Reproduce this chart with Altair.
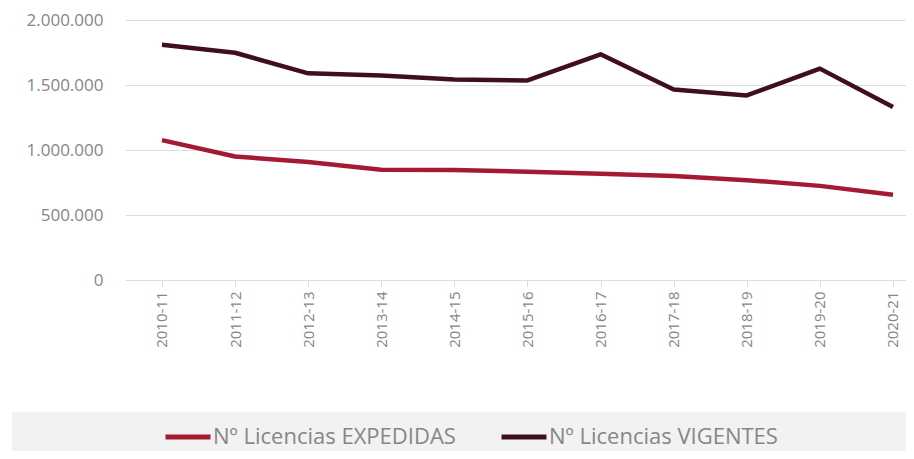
import altair as alt
import pandas as pd

seasons = ["2010-11", "2011-12", "2012-13", "2013-14", "2014-15", "2015-16",
           "2016-17", "2017-18", "2018-19", "2019-20", "2020-21"]
expedidas = [1076000, 950000, 908000, 848000, 847000, 832000,
             818000, 800000, 768000, 724000, 656000]
vigentes = [1809000, 1748000, 1590000, 1573000, 1543000, 1535000,
            1736000, 1466000, 1420000, 1626000, 1330000]
series_names = ["Nº Licencias EXPEDIDAS", "Nº Licencias VIGENTES"]
series_colors = ["#a31a32", "#40101a"]
y_ticks = [0, 500000, 1000000, 1500000, 2000000]

rows = []
for i, (s, e, v) in enumerate(zip(seasons, expedidas, vigentes)):
    rows.append({"idx": i, "season": s, "serie": series_names[0], "value": e})
    rows.append({"idx": i, "season": s, "serie": series_names[1], "value": v})
df = pd.DataFrame(rows)

FONT = "Open Sans"
TXT = "#868686"
W, H = 781, 260

season_arr = "[" + ",".join("'%s'" % s for s in seasons) + "]"

band = alt.Chart(pd.DataFrame({"d": [0]})).mark_rect(color="#f2f2f2").encode(
    x=alt.value(-113), x2=alt.value(W), y=alt.value(392), y2=alt.value(439)
)

lines = alt.Chart(df).mark_line(strokeWidth=4.5, strokeJoin="round").encode(
    x=alt.X("idx:Q", title=None,
            scale=alt.Scale(domain=[-0.506, 10.178], nice=False, zero=False),
            axis=alt.Axis(values=list(range(len(seasons))),
                          labelExpr=season_arr + "[datum.value]",
                          labelAngle=-90, labelFontSize=15, labelFont=FONT,
                          labelColor=TXT, domain=False, ticks=True,
                          tickColor="#d9d9d9", tickSize=6, labelPadding=5,
                          labelAlign="right", labelBaseline="middle",
                          grid=False)),
    y=alt.Y("value:Q", title=None,
            scale=alt.Scale(domain=[0, 2000000], nice=False),
            axis=alt.Axis(values=y_ticks, labelFontSize=17, labelFont=FONT,
                          labelColor=TXT, domain=False, ticks=False,
                          labelPadding=22, gridColor="#dedede", gridWidth=1,
                          labelExpr="replace(format(datum.value, ','), regexp(',', 'g'), '.')")),
    color=alt.Color("serie:N",
                    scale=alt.Scale(domain=series_names, range=series_colors),
                    legend=alt.Legend(title=None, orient="none", direction="horizontal",
                                      legendX=38, legendY=392,
                                      symbolType="stroke", symbolSize=2025,
                                      symbolStrokeWidth=5, labelFontSize=22,
                                      labelFont=FONT, labelColor=TXT,
                                      labelOffset=0, columnPadding=35,
                                      labelLimit=400)),
)

chart = alt.layer(band, lines).properties(
    width=W, height=H,
    autosize=alt.AutoSizeParams(type="none"),
    padding={"left": 117, "top": 12, "right": 0, "bottom": 171},
    background="white",
).configure_view(stroke=None)

chart.save("out.html", embed_options={"renderer": "svg", "actions": False})
